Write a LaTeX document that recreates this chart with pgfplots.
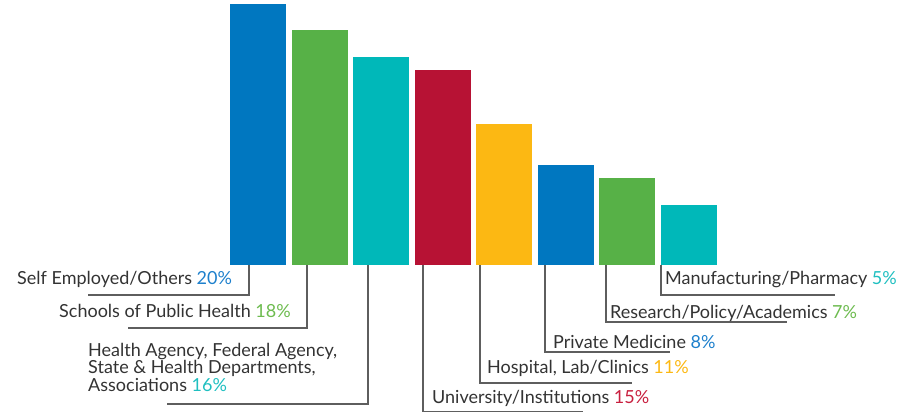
\documentclass[border=0pt]{standalone}
\usepackage{pgfplots}
\pgfplotsset{compat=1.18}
\usepackage{fontspec}
\setmainfont{Lato}
\definecolor{bblue}{HTML}{0077C0}
\definecolor{bgreen}{HTML}{57B147}
\definecolor{bteal}{HTML}{00B8B9}
\definecolor{bred}{HTML}{B71234}
\definecolor{byellow}{HTML}{FCB813}
\definecolor{tblue}{HTML}{1E80CC}
\definecolor{tgreen}{HTML}{6DBB4F}
\definecolor{tteal}{HTML}{1FBFC0}
\definecolor{tred}{HTML}{C8203F}
\definecolor{tyellow}{HTML}{FCB813}
\definecolor{txt}{HTML}{333333}
\definecolor{lead}{HTML}{5E5E5E}
\begin{document}
\begin{tikzpicture}[x=1bp,y=1bp]
\useasboundingbox (0,0) rectangle (915,412);
\begin{axis}[
  at={(227.25bp,147bp)}, anchor=south west,
  scale only axis, width=492bp, height=261bp,
  hide axis, xmin=-0.5, xmax=7.5, ymin=0, ymax=20,
  ybar, bar width=56bp, bar shift=0pt,
  clip=false]
\addplot[fill=bblue, draw=none] coordinates {(0,20)};
\addplot[fill=bgreen, draw=none] coordinates {(1,18)};
\addplot[fill=bteal, draw=none] coordinates {(2,15.95)};
\addplot[fill=bred, draw=none] coordinates {(3,14.95)};
\addplot[fill=byellow, draw=none] coordinates {(4,10.8)};
\addplot[fill=bblue, draw=none] coordinates {(5,7.7)};
\addplot[fill=bgreen, draw=none] coordinates {(6,6.65)};
\addplot[fill=bteal, draw=none] coordinates {(7,4.6)};
\end{axis}
\begin{scope}[lead, line width=1.1bp]
\draw (249,147) -- (249,412-295) -- (88,412-295);
\draw (307,147) -- (307,412-328) -- (128,412-328);
\draw (368,147) -- (368,412-404) -- (167,412-404);
\draw (423,147) -- (423,0.6) -- (583,0.6);
\draw (480,147) -- (480,412-383) -- (632,412-383);
\draw (545,147) -- (545,412-352) -- (670,412-352);
\draw (606,147) -- (606,412-322) -- (787,412-322);
\draw (661,147) -- (661,412-295) -- (835,412-295);
\end{scope}
\begin{scope}[every node/.style={anchor=base west, inner sep=0pt, text=txt, font=\fontsize{18bp}{21bp}\selectfont}]
\node at (17,412-284) {Self Employed/Others \textcolor{tblue}{20\%}};
\node at (59,412-317) {Schools of Public Health \textcolor{tgreen}{18\%}};
\node at (88,412-356) {Health Agency, Federal Agency,};
\node at (88,412-373.5) {State \& Health Departments,};
\node at (88,412-391) {Associations \textcolor{tteal}{16\%}};
\node at (432,412-403) {University/Institutions \textcolor{tred}{15\%}};
\node at (487,412-373) {Hospital, Lab/Clinics \textcolor{tyellow}{11\%}};
\node at (553,412-348) {Private Medicine \textcolor{tblue}{8\%}};
\node at (610,412-318) {Research/Policy/Academics \textcolor{tgreen}{7\%}};
\node at (665,412-284) {Manufacturing/Pharmacy \textcolor{tteal}{5\%}};
\end{scope}
\end{tikzpicture}
\end{document}
